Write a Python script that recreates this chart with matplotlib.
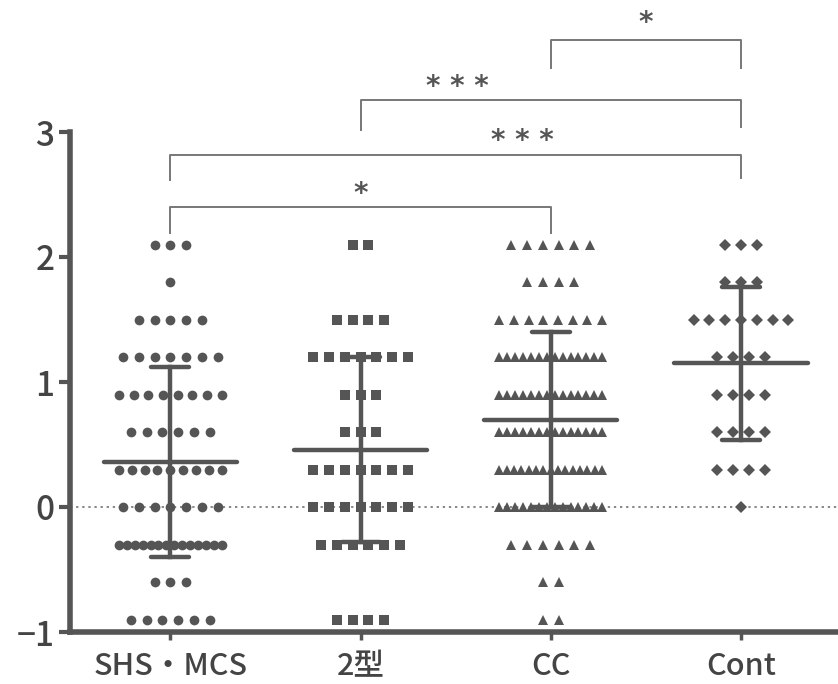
import numpy as np
import matplotlib
matplotlib.use("Agg")
import matplotlib.pyplot as plt

plt.rcParams['font.family'] = ['Noto Sans CJK JP', 'DejaVu Sans']

categories = ["SHS・MCS", "2型", "CC", "Cont"]

shs_values = [2.1, 1.8, 1.5, 1.2, 0.9, 0.6, 0.3, 0.0, -0.3, -0.6, -0.9]
shs_counts = [3, 1, 5, 7, 8, 6, 9, 7, 14, 3, 6]
t2_values = [2.1, 1.5, 1.2, 0.9, 0.6, 0.3, 0.0, -0.3, -0.9]
t2_counts = [2, 4, 7, 3, 3, 7, 7, 6, 4]
cc_values = [2.1, 1.8, 1.5, 1.2, 0.9, 0.6, 0.3, 0.0, -0.3, -0.6, -0.9]
cc_counts = [6, 4, 8, 14, 14, 14, 15, 14, 6, 2, 2]
cont_values = [2.1, 1.8, 1.5, 1.2, 0.9, 0.6, 0.3, 0.0]
cont_counts = [3, 3, 7, 4, 4, 4, 4, 1]

means = [0.36, 0.46, 0.70, 1.15]
sds = [0.76, 0.74, 0.70, 0.61]

sig_pairs = [(0, 2), (0, 3), (1, 3), (2, 3)]
sig_labels = ["*", "* * *", "* * *", "*"]
sig_heights = [2.40, 2.82, 3.26, 3.74]
sig_drop_left = [2.19, 2.62, 3.02, 3.51]
sig_drop_right = [2.19, 2.63, 3.04, 3.51]
sig_label_x = [1.0, 1.85, 1.51, 2.5]
sig_label_y = [2.50, 2.93, 3.36, 3.87]

yticks = [-1, 0, 1, 2, 3]

groups = [(shs_values, shs_counts, 'o', 7.0),
          (t2_values, t2_counts, 's', 6.6),
          (cc_values, cc_counts, '^', 7.6),
          (cont_values, cont_counts, 'D', 6.4)]

W, H = 838, 684
fig = plt.figure(figsize=(W / 100, H / 100), dpi=100)
ax = fig.add_axes([69.5 / W, 52 / H, (W - 69.5) / W, 632 / H])

col = '#555555'
step = 0.083
maxw = 0.54

for gi, (vals, cnts, mk, ms) in enumerate(groups):
    xs, ys = [], []
    for v, n in zip(vals, cnts):
        sp = step if n <= 1 else min(step, maxw / (n - 1))
        offs = (np.arange(n) - (n - 1) / 2) * sp
        xs.extend(gi + offs)
        ys.extend([v] * n)
    ax.plot(xs, ys, linestyle='none', marker=mk, markersize=ms,
            color=col, markeredgewidth=0, zorder=3)

# mean & SD
for gi, (m, s) in enumerate(zip(means, sds)):
    ax.plot([gi - 0.35, gi + 0.35], [m, m], color=col, lw=3.2,
            solid_capstyle='round', zorder=4)
    ax.plot([gi, gi], [m - s, m + s], color=col, lw=3.2, zorder=4)
    for yy in (m - s, m + s):
        ax.plot([gi - 0.1, gi + 0.1], [yy, yy], color=col, lw=3.2,
                solid_capstyle='round', zorder=4)

# dotted zero line
ax.axhline(0, color='#666666', lw=1.1, linestyle=(0, (1.5, 2.5)), zorder=1)

# significance brackets
for (a, b), lab, h, dl, dr, lx, ly in zip(sig_pairs, sig_labels, sig_heights,
                                          sig_drop_left, sig_drop_right,
                                          sig_label_x, sig_label_y):
    ax.plot([a, a, b, b], [dl, h, h, dr], color='#777777', lw=1.4,
            clip_on=False, zorder=2)
    ax.text(lx, ly, lab, ha='center', va='center', fontsize=20,
            color='#555555', family=['DejaVu Sans'], fontweight='bold')

ax.set_xlim(-0.53, 3.51)
ax.set_ylim(-1, 4.056)
ax.set_yticks(yticks)
ax.set_yticklabels([str(t).replace('-', '−') for t in yticks])
ax.set_xticks(range(len(categories)))
ax.set_xticklabels(categories)
for lab in ax.get_xticklabels() + ax.get_yticklabels():
    lab.set_fontweight('medium')

for sp in ('top', 'right'):
    ax.spines[sp].set_visible(False)
ax.spines['left'].set_bounds(-1, 3)
ax.spines['left'].set_linewidth(4)
ax.spines['left'].set_color(col)
ax.spines['bottom'].set_linewidth(4)
ax.spines['bottom'].set_color(col)
ax.tick_params(axis='y', length=8, width=3, color=col, labelsize=24,
               labelcolor='#444444', pad=3)
ax.tick_params(axis='x', length=6, width=2.5, color=col, labelsize=22,
               labelcolor='#444444', pad=8)
ax.patch.set_alpha(0)

fig.savefig('out.png', dpi=100)
